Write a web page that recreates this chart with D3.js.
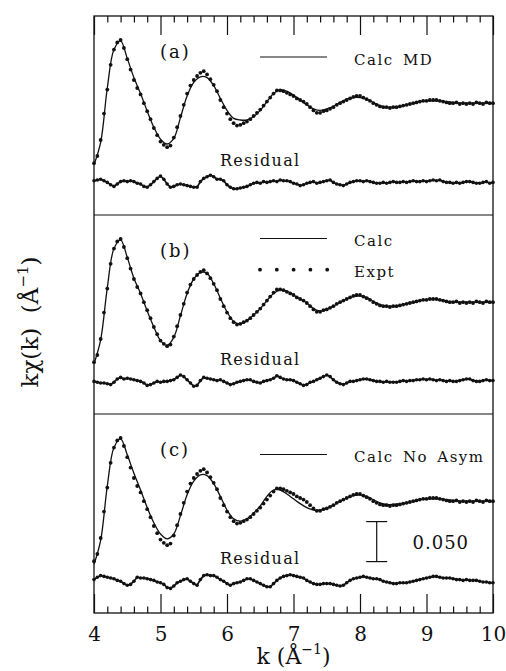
<!DOCTYPE html>
<html>
<head>
<meta charset="utf-8">
<script src="https://cdn.jsdelivr.net/npm/d3@7"></script>
<style>
  body { margin: 0; background: #fff; }
  svg { display: block; }
  text { font-family: "DejaVu Serif", serif; fill: #111; }
</style>
</head>
<body>
<svg id="chart" width="506" height="671"></svg>
<script>
// k grid: experiment and residuals sampled every 0.05 Å^-1, calculations every 0.1 Å^-1
const kStart = 4, kEnd = 10, exptStep = 0.05, calcStep = 0.1;

// Experimental kχ(k) (Å^-1), k = 4.00 ... 10.00
const expt = [
  -0.076, -0.067, -0.047, -0.014, 0.016, 0.047, 0.066, 0.075, 0.078, 0.068,
   0.054,  0.041,  0.028,  0.018, 0.010, -0.001, -0.011, -0.021, -0.032, -0.041,
  -0.049, -0.053, -0.056, -0.054, -0.044, -0.031, -0.017, -0.003, 0.011, 0.021,
   0.028,  0.033,  0.037,  0.039, 0.035, 0.029, 0.022, 0.014, 0.003, -0.006,
  -0.014, -0.021, -0.026, -0.029, -0.028, -0.026, -0.024, -0.021, -0.017, -0.013,
  -0.009, -0.004,  0.001,  0.006, 0.011, 0.015, 0.015, 0.014, 0.012, 0.010,
   0.008,  0.005,  0.003,  0.001, -0.002, -0.006, -0.010, -0.013, -0.013, -0.011,
  -0.010, -0.008, -0.006, -0.003, -0.001, 0.001, 0.003, 0.005, 0.007, 0.008,
   0.008,  0.006,  0.004,  0.002, -0.001, -0.003, -0.005, -0.006, -0.006, -0.007,
  -0.006, -0.006, -0.005, -0.004, -0.003, -0.002, -0.001, 0.000, 0.001, 0.002,
   0.002,  0.003,  0.003,  0.003, 0.002, 0.001, 0.000, -0.001, -0.001, 0.000,
  -0.002, -0.001, -0.002, -0.001, -0.002, 0.000, -0.001, -0.002, 0.000, -0.001,
  -0.001
];

// Calculated curves, k = 4.0 ... 10.0
const calcMD = [
  -0.078, -0.050, 0.018, 0.066, 0.077, 0.055, 0.031, 0.011, -0.011, -0.031,
  -0.046, -0.052, -0.045, -0.019, 0.008, 0.025, 0.032, 0.031, 0.021, 0.005,
  -0.010, -0.020, -0.022, -0.022, -0.018, -0.010, 0.001, 0.011, 0.016, 0.014,
   0.009,  0.003, -0.003, -0.008, -0.010, -0.008, -0.005, 0.000, 0.004, 0.006,
   0.006,  0.004,  0.000, -0.004, -0.006, -0.006, -0.005, -0.003, -0.001, 0.001,
   0.002,  0.002,  0.002,  0.001, 0.000, -0.001, -0.001, -0.001, -0.001, -0.001,
  -0.001
];
const calcFit = [
  -0.078, -0.048, 0.017, 0.066, 0.077, 0.055, 0.029, 0.010, -0.012, -0.032,
  -0.049, -0.055, -0.045, -0.018, 0.010, 0.028, 0.036, 0.035, 0.022, 0.004,
  -0.013, -0.025, -0.028, -0.024, -0.017, -0.009, 0.001, 0.010, 0.014, 0.013,
   0.008,  0.003, -0.002, -0.009, -0.012, -0.010, -0.006, -0.001, 0.003, 0.006,
   0.007,  0.005,  0.000, -0.004, -0.006, -0.006, -0.005, -0.003, -0.001, 0.001,
   0.002,  0.003,  0.002,  0.000, -0.001, -0.001, -0.001, -0.001, -0.001, -0.001,
  -0.001
];
const calcNoAsym = [
  -0.080, -0.050, 0.018, 0.066, 0.077, 0.057, 0.034, 0.013, -0.009, -0.028,
  -0.042, -0.048, -0.042, -0.019, 0.007, 0.024, 0.032, 0.031, 0.021, 0.005,
  -0.012, -0.023, -0.026, -0.023, -0.016, -0.007, 0.005, 0.013, 0.013, 0.008,
   0.002, -0.004, -0.009, -0.012, -0.012, -0.010, -0.006, -0.001, 0.003, 0.006,
   0.007,  0.005,  0.001, -0.003, -0.005, -0.005, -0.004, -0.003, -0.001, 0.001,
   0.002,  0.002,  0.002,  0.001, 0.000, -0.001, -0.001, -0.001, -0.001, -0.001,
  -0.001
];

// Residuals (expt - calc), k = 4.00 ... 10.00
const residMD = [
   0.002,  0.003,  0.004,  0.002,  0.000, -0.003, -0.005, -0.002,  0.001,  0.002,
   0.001,  0.002,  0.001, -0.001, -0.002, -0.005, -0.006, -0.003,  0.001,  0.005,
   0.008,  0.004, -0.002, -0.006, -0.005, -0.003, -0.002, -0.003, -0.004, -0.005,
  -0.006, -0.006,  0.001,  0.005,  0.007,  0.009,  0.007,  0.004,  0.004,  0.002,
  -0.003, -0.006, -0.008, -0.008, -0.007, -0.006, -0.005, -0.003, -0.001,  0.000,
  -0.001,  0.001,  0.000,  0.001,  0.002,  0.001,  0.003,  0.002,  0.002,  0.001,
  -0.001, -0.002, -0.004, -0.003, -0.001,  0.000,  0.001, -0.001,  0.000,  0.001,
   0.002,  0.003,  0.000, -0.002, -0.003, -0.004, -0.002,  0.000,  0.001,  0.002,
   0.002,  0.001,  0.002,  0.001,  0.000, -0.001, -0.001,  0.000, -0.001,  0.000,
   0.001,  0.000,  0.000,  0.001,  0.000,  0.001,  0.002,  0.001,  0.001,  0.002,
   0.001,  0.002,  0.003,  0.002,  0.003,  0.001,  0.000,  0.000, -0.001,  0.000,
  -0.001,  0.000,  0.001,  0.001,  0.000, -0.001, -0.001,  0.000,  0.001, -0.001,
   0.000
];
const residFit = [
   0.000, -0.001, -0.002, -0.002, -0.003, -0.004, -0.001,  0.003,  0.005,  0.003,
   0.004,  0.003,  0.002,  0.001,  0.000, -0.002, -0.005, -0.004, -0.002,  0.000,
  -0.001,  0.000,  0.000,  0.001,  0.002,  0.005,  0.008,  0.006,  0.002, -0.002,
  -0.006, -0.005,  0.001,  0.005,  0.004,  0.003,  0.002,  0.001,  0.002,  0.000,
  -0.002, -0.004, -0.003, -0.001,  0.000,  0.001,  0.002,  0.002,  0.000, -0.001,
  -0.002,  0.000,  0.001,  0.002,  0.004,  0.007,  0.005,  0.003,  0.002,  0.002,
   0.001, -0.001, -0.003, -0.005, -0.004, -0.001,  0.000,  0.002,  0.004,  0.006,
   0.008,  0.006,  0.002, -0.001, -0.003, -0.004, -0.002,  0.000,  0.000,  0.001,
   0.002,  0.003,  0.003,  0.002,  0.001,  0.000,  0.000, -0.001,  0.000, -0.001,
  -0.001, -0.001,  0.000,  0.001,  0.000,  0.001,  0.001,  0.002,  0.002,  0.003,
   0.002,  0.003,  0.002,  0.001,  0.002,  0.001,  0.000,  0.001,  0.000,  0.000,
   0.001,  0.002,  0.003,  0.003,  0.001,  0.000,  0.000,  0.001,  0.002,  0.001,
   0.001
];
const residNoAsym = [
   0.001,  0.004,  0.006,  0.005,  0.004,  0.003,  0.002,  0.000, -0.001, -0.004,
  -0.006, -0.005, -0.001,  0.004,  0.003,  0.003,  0.002,  0.001,  0.000, -0.002,
  -0.003, -0.005, -0.009, -0.010, -0.007, -0.003, -0.001,  0.001,  0.002, -0.001,
  -0.004, -0.006,  0.001,  0.006,  0.007,  0.006,  0.006,  0.004,  0.001, -0.001,
  -0.004, -0.006, -0.004, -0.003, -0.002,  0.000,  0.002,  0.002,  0.000, -0.002,
  -0.004, -0.006, -0.008, -0.008, -0.004,  0.000,  0.003,  0.005,  0.006,  0.007,
   0.006,  0.005,  0.004,  0.003,  0.000, -0.002, -0.004, -0.005, -0.005, -0.004,
  -0.004, -0.004, -0.005, -0.006, -0.007, -0.006, -0.003,  0.000,  0.002,  0.003,
   0.004,  0.005,  0.004,  0.003,  0.002,  0.002,  0.001, -0.001, -0.002, -0.003,
  -0.004, -0.004, -0.003, -0.003, -0.003, -0.002, -0.001,  0.000,  0.001,  0.002,
   0.003,  0.004,  0.005,  0.005,  0.004,  0.003,  0.003,  0.003,  0.002,  0.001,
   0.001,  0.000,  0.001,  0.000,  0.000,  0.000, -0.001, -0.002, -0.002, -0.003,
  -0.003
];

const panelLabels = ["(a)", "(b)", "(c)"];
const calcLabels = ["Calc MD", "Calc", "Calc No Asym"];
const exptLabel = "Expt";
const residualLabel = "Residual";
const xTickValues = [4, 5, 6, 7, 8, 9, 10];
const scaleBarValue = 0.050;

// ---- layout ----
const svg = d3.select("#chart");
const frame = { left: 94, right: 493, top: 16, bottom: 613 };
const panelH = (frame.bottom - frame.top) / 3;
const residualOffset = -0.100;   // residual traces are drawn 0.1 below zero
const yMax = 0.108, ySpan = panelH / 800; // 800 px per unit of kχ

const x = d3.scaleLinear().domain([kStart, kEnd]).range([frame.left, frame.right]);
const kExpt = d3.range(expt.length).map(i => kStart + i * exptStep);
const kCalc = d3.range(calcMD.length).map(i => kStart + i * calcStep);

const panels = [
  { label: panelLabels[0], calc: calcMD, resid: residMD, calcText: calcLabels[0], showExpt: false, legendY: 41 },
  { label: panelLabels[1], calc: calcFit, resid: residFit, calcText: calcLabels[1], showExpt: true, legendY: 23.5 },
  { label: panelLabels[2], calc: calcNoAsym, resid: residNoAsym, calcText: calcLabels[2], showExpt: false, legendY: 40.5 }
];

panels.forEach((p, i) => {
  const top = frame.top + i * panelH;
  const y = d3.scaleLinear().domain([yMax - ySpan, yMax]).range([top + panelH, top]);
  const g = svg.append("g");

  // calculated curve
  g.append("path")
    .datum(p.calc.map((v, j) => [kCalc[j], v]))
    .attr("fill", "none").attr("stroke", "#111").attr("stroke-width", 1.3)
    .attr("d", d3.line().x(d => x(d[0])).y(d => y(d[1])).curve(d3.curveCatmullRom.alpha(0.5)));

  // experimental points
  g.selectAll("circle.expt")
    .data(expt.map((v, j) => [kExpt[j], v]))
    .join("circle").attr("class", "expt")
    .attr("cx", d => x(d[0])).attr("cy", d => y(d[1])).attr("r", 1.9).attr("fill", "#111");

  // residual trace
  const rd = p.resid.map((v, j) => [kExpt[j], v + residualOffset]);
  g.append("path").datum(rd)
    .attr("fill", "none").attr("stroke", "#111").attr("stroke-width", 1.7)
    .attr("d", d3.line().x(d => x(d[0])).y(d => y(d[1])));
  g.selectAll("circle.res").data(rd).join("circle").attr("class", "res")
    .attr("cx", d => x(d[0])).attr("cy", d => y(d[1])).attr("r", 1.8).attr("fill", "#111");

  // panel label
  g.append("text").attr("x", 160).attr("y", top + 42)
    .attr("font-size", 18).attr("letter-spacing", 2).text(p.label);

  // "Residual" label
  g.append("text").attr("x", 220).attr("y", top + 150)
    .attr("font-size", 16).attr("letter-spacing", 1.3).text(residualLabel);

  // legend: calc line
  const ly = top + p.legendY;
  g.append("line").attr("x1", 260).attr("x2", 327).attr("y1", ly).attr("y2", ly)
    .attr("stroke", "#111").attr("stroke-width", 1.2);
  g.append("text").attr("x", 354).attr("y", ly + 7.5)
    .attr("font-size", 15).attr("letter-spacing", 1.5).attr("word-spacing", 3)
    .text(p.calcText);

  if (p.showExpt) {
    const ey = top + 54.7;
    g.selectAll("circle.leg").data(d3.range(5)).join("circle").attr("class", "leg")
      .attr("cx", d => 260 + d * 16.8).attr("cy", ey).attr("r", 1.9).attr("fill", "#111");
    g.append("text").attr("x", 354).attr("y", ey + 7.5)
      .attr("font-size", 15).attr("letter-spacing", 1.5).text(exptLabel);
  }

  // scale bar in the bottom panel
  if (i === 2) {
    const barTop = -0.0265;
    const y1 = y(barTop), y2 = y(barTop - scaleBarValue), bx = 376.7;
    const sb = g.append("g").attr("stroke", "#111").attr("stroke-width", 1.2);
    sb.append("line").attr("x1", bx).attr("x2", bx).attr("y1", y1).attr("y2", y2);
    sb.append("line").attr("x1", bx - 10.5).attr("x2", bx + 10.5).attr("y1", y1).attr("y2", y1);
    sb.append("line").attr("x1", bx - 10.5).attr("x2", bx + 10.5).attr("y1", y2).attr("y2", y2);
    g.append("text").attr("x", 412.5).attr("y", (y1 + y2) / 2 + 7)
      .attr("font-family", "'Liberation Sans', Arial, sans-serif")
      .attr("font-size", 18).attr("letter-spacing", 1).text(d3.format(".3f")(scaleBarValue));
  }
});

// frame and panel dividers
svg.append("rect").attr("x", frame.left).attr("y", frame.top)
  .attr("width", frame.right - frame.left).attr("height", frame.bottom - frame.top)
  .attr("fill", "none").attr("stroke", "#111").attr("stroke-width", 1.3);
[1, 2].forEach(i => {
  const yy = frame.top + i * panelH;
  svg.append("line").attr("x1", frame.left).attr("x2", frame.right).attr("y1", yy).attr("y2", yy)
    .attr("stroke", "#111").attr("stroke-width", 1.2);
});

// x axes: inward ticks on top and bottom
const minorTicks = d3.range(40, 101, 2).map(v => v / 10).filter(v => v % 1 !== 0);
function styleAxis(sel) {
  sel.select(".domain").remove();
  sel.selectAll(".tick line").attr("stroke", "#111").attr("stroke-width", 1.2);
}
svg.append("g").attr("transform", `translate(0,${frame.bottom})`)
  .call(d3.axisBottom(x).tickValues(xTickValues).tickSize(-19).tickPadding(14).tickFormat(d3.format("d")))
  .call(styleAxis)
  .call(s => s.selectAll("text").attr("font-family", "'DejaVu Serif', serif").attr("font-size", 20).attr("fill", "#111"));
svg.append("g").attr("transform", `translate(0,${frame.bottom})`)
  .call(d3.axisBottom(x).tickValues(minorTicks).tickSize(-6.5).tickFormat(""))
  .call(styleAxis);
svg.append("g").attr("transform", `translate(0,${frame.top})`)
  .call(d3.axisTop(x).tickValues(xTickValues).tickSize(-19).tickFormat(""))
  .call(styleAxis);
svg.append("g").attr("transform", `translate(0,${frame.top})`)
  .call(d3.axisTop(x).tickValues(minorTicks).tickSize(-6.5).tickFormat(""))
  .call(styleAxis);

// axis titles
const xt = svg.append("text").attr("x", x(7)).attr("y", 664)
  .attr("text-anchor", "middle").attr("font-size", 22);
xt.append("tspan").text("k (Å");
xt.append("tspan").attr("font-size", 14).attr("dy", -10).text("−1");
xt.append("tspan").attr("dy", 10).text(")");

const yt = svg.append("text").attr("transform", "translate(38,322) rotate(-90)")
  .attr("text-anchor", "middle").attr("font-size", 23);
yt.append("tspan").text("kχ(k)\u00a0\u00a0(Å");
yt.append("tspan").attr("font-size", 15).attr("dy", -10).text("−1");
yt.append("tspan").attr("dy", 10).text(")");
</script>
</body>
</html>
